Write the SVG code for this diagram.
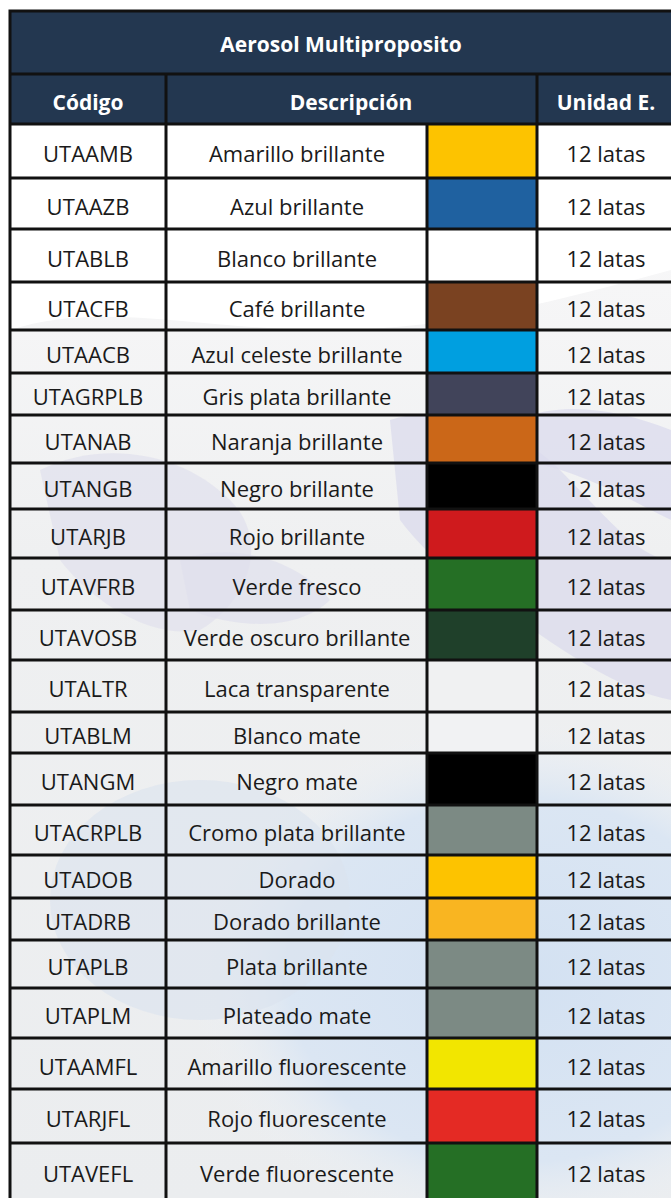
<svg xmlns="http://www.w3.org/2000/svg" width="671" height="1198" viewBox="0 0 671 1198">
<style>
.t{font-family:"Open Sans","Liberation Sans",sans-serif;font-size:22px;fill:#1a1a1a;text-anchor:middle}
.h{font-family:"Open Sans","Liberation Sans",sans-serif;font-size:21px;font-weight:bold;fill:#ffffff;text-anchor:middle}
.ln{stroke:#111111;stroke-width:3;fill:none}
</style>
<defs>
<clipPath id="body"><rect x="10" y="124" width="661" height="1074"/></clipPath>
<radialGradient id="ocean" cx="0.5" cy="0.5" r="0.5">
<stop offset="0" stop-color="#d3e1f2"/>
<stop offset="0.7" stop-color="#dbe6f3"/>
<stop offset="1" stop-color="#eef1f4" stop-opacity="0"/>
</radialGradient>
<linearGradient id="bg" x1="0" y1="0" x2="0" y2="1">
<stop offset="0" stop-color="#ffffff"/>
<stop offset="0.15" stop-color="#f6f6f7"/>
<stop offset="0.4" stop-color="#eff0f1"/>
<stop offset="1" stop-color="#ebedef"/>
</linearGradient>
</defs>
<rect x="0" y="0" width="671" height="1198" fill="#ffffff"/>
<g id="watermark" clip-path="url(#body)">
<rect x="10" y="124" width="661" height="1074" fill="url(#bg)"/>
<path d="M10 124 L671 124 L671 270 C560 300 450 330 330 330 C200 330 100 300 10 330 Z" fill="#ffffff"/>
<ellipse cx="520" cy="980" rx="330" ry="260" fill="url(#ocean)"/>
<ellipse cx="200" cy="900" rx="150" ry="120" fill="#dbe3ef" opacity="0.6"/>
<path d="M390 420 C450 400 520 430 560 470 C600 510 640 560 671 560 L671 700 C620 690 560 650 520 620 C480 600 430 560 400 520 Z" fill="#dcdcec" opacity="0.8"/>
<path d="M40 470 C100 440 180 450 230 500 C270 540 250 600 200 630 C150 640 90 600 60 560 Z" fill="#e2e2ee" opacity="0.8"/>
<path d="M520 420 C560 400 620 410 671 430 L671 520 C630 500 580 470 520 460 Z" fill="#dcdcee" opacity="0.8"/>
<path d="M180 560 C230 540 300 560 330 600 C300 630 240 630 190 610 Z" fill="#e0e0ec" opacity="0.7"/>
</g>
<g id="title">
<rect x="10" y="11" width="661" height="113" fill="#233750"/>
<text class="h" x="341" y="52">Aerosol Multiproposito</text>
</g>
<g id="header">
<text class="h" x="88" y="110">Código</text>
<text class="h" x="351" y="110">Descripción</text>
<text class="h" x="606" y="110">Unidad E.</text>
</g>
<g id="row1"><rect x="427" y="124" width="110" height="54" fill="#fdc300"/><text class="t" x="88" y="162">UTAAMB</text><text class="t" x="297" y="162">Amarillo brillante</text><text class="t" x="606" y="162">12 latas</text></g>
<g id="row2"><rect x="427" y="178" width="110" height="51" fill="#1f61a0"/><text class="t" x="88" y="214.5">UTAAZB</text><text class="t" x="297" y="214.5">Azul brillante</text><text class="t" x="606" y="214.5">12 latas</text></g>
<g id="row3"><rect x="427" y="229" width="110" height="53" fill="#ffffff"/><text class="t" x="88" y="266.5">UTABLB</text><text class="t" x="297" y="266.5">Blanco brillante</text><text class="t" x="606" y="266.5">12 latas</text></g>
<g id="row4"><rect x="427" y="282" width="110" height="48" fill="#7a4221"/><text class="t" x="88" y="317">UTACFB</text><text class="t" x="297" y="317">Café brillante</text><text class="t" x="606" y="317">12 latas</text></g>
<g id="row5"><rect x="427" y="330" width="110" height="43" fill="#009fe0"/><text class="t" x="88" y="362.5">UTAACB</text><text class="t" x="297" y="362.5">Azul celeste brillante</text><text class="t" x="606" y="362.5">12 latas</text></g>
<g id="row6"><rect x="427" y="373" width="110" height="42" fill="#41445a"/><text class="t" x="88" y="405">UTAGRPLB</text><text class="t" x="297" y="405">Gris plata brillante</text><text class="t" x="606" y="405">12 latas</text></g>
<g id="row7"><rect x="427" y="415" width="110" height="48" fill="#cb6718"/><text class="t" x="88" y="450">UTANAB</text><text class="t" x="297" y="450">Naranja brillante</text><text class="t" x="606" y="450">12 latas</text></g>
<g id="row8"><rect x="427" y="463" width="110" height="46" fill="#000000"/><text class="t" x="88" y="497">UTANGB</text><text class="t" x="297" y="497">Negro brillante</text><text class="t" x="606" y="497">12 latas</text></g>
<g id="row9"><rect x="427" y="509" width="110" height="49" fill="#cf1a1d"/><text class="t" x="88" y="544.5">UTARJB</text><text class="t" x="297" y="544.5">Rojo brillante</text><text class="t" x="606" y="544.5">12 latas</text></g>
<g id="row10"><rect x="427" y="558" width="110" height="52" fill="#256f25"/><text class="t" x="88" y="595">UTAVFRB</text><text class="t" x="297" y="595">Verde fresco</text><text class="t" x="606" y="595">12 latas</text></g>
<g id="row11"><rect x="427" y="610" width="110" height="50" fill="#1f402a"/><text class="t" x="88" y="646">UTAVOSB</text><text class="t" x="297" y="646">Verde oscuro brillante</text><text class="t" x="606" y="646">12 latas</text></g>
<g id="row12"><rect x="427" y="660" width="110" height="52" fill="#f0f1f2"/><text class="t" x="88" y="697">UTALTR</text><text class="t" x="297" y="697">Laca transparente</text><text class="t" x="606" y="697">12 latas</text></g>
<g id="row13"><rect x="427" y="712" width="110" height="41" fill="#f1f2f3"/><text class="t" x="88" y="743.5">UTABLM</text><text class="t" x="297" y="743.5">Blanco mate</text><text class="t" x="606" y="743.5">12 latas</text></g>
<g id="row14"><rect x="427" y="753" width="110" height="52" fill="#000000"/><text class="t" x="88" y="790">UTANGM</text><text class="t" x="297" y="790">Negro mate</text><text class="t" x="606" y="790">12 latas</text></g>
<g id="row15"><rect x="427" y="805" width="110" height="50" fill="#7c8a84"/><text class="t" x="88" y="841">UTACRPLB</text><text class="t" x="297" y="841">Cromo plata brillante</text><text class="t" x="606" y="841">12 latas</text></g>
<g id="row16"><rect x="427" y="855" width="110" height="43" fill="#fdc300"/><text class="t" x="88" y="887.5">UTADOB</text><text class="t" x="297" y="887.5">Dorado</text><text class="t" x="606" y="887.5">12 latas</text></g>
<g id="row17"><rect x="427" y="898" width="110" height="42" fill="#f9b521"/><text class="t" x="88" y="930">UTADRB</text><text class="t" x="297" y="930">Dorado brillante</text><text class="t" x="606" y="930">12 latas</text></g>
<g id="row18"><rect x="427" y="940" width="110" height="48" fill="#7c8a84"/><text class="t" x="88" y="975">UTAPLB</text><text class="t" x="297" y="975">Plata brillante</text><text class="t" x="606" y="975">12 latas</text></g>
<g id="row19"><rect x="427" y="988" width="110" height="50" fill="#7c8a84"/><text class="t" x="88" y="1024">UTAPLM</text><text class="t" x="297" y="1024">Plateado mate</text><text class="t" x="606" y="1024">12 latas</text></g>
<g id="row20"><rect x="427" y="1038" width="110" height="51" fill="#f2e600"/><text class="t" x="88" y="1074.5">UTAAMFL</text><text class="t" x="297" y="1074.5">Amarillo fluorescente</text><text class="t" x="606" y="1074.5">12 latas</text></g>
<g id="row21"><rect x="427" y="1089" width="110" height="54" fill="#e42a24"/><text class="t" x="88" y="1127">UTARJFL</text><text class="t" x="297" y="1127">Rojo fluorescente</text><text class="t" x="606" y="1127">12 latas</text></g>
<g id="row22"><rect x="427" y="1143" width="110" height="55" fill="#256f25"/><text class="t" x="88" y="1181.5">UTAVEFL</text><text class="t" x="297" y="1181.5">Verde fluorescente</text><text class="t" x="606" y="1181.5">12 latas</text></g>
<g id="grid" class="ln">
<path d="M8.5 11 H671 M10 9.5 V1198"/>
<path d="M10 74 H671 M10 124 H671"/>
<path d="M166 74 V1198 M537 74 V1198 M427 124 V1198"/>
<path d="M10 178 H671 M10 229 H671 M10 282 H671 M10 330 H671 M10 373 H671 M10 415 H671 M10 463 H671 M10 509 H671 M10 558 H671 M10 610 H671 M10 660 H671 M10 712 H671 M10 753 H671 M10 805 H671 M10 855 H671 M10 898 H671 M10 940 H671 M10 988 H671 M10 1038 H671 M10 1089 H671 M10 1143 H671"/>
</g>
</svg>
